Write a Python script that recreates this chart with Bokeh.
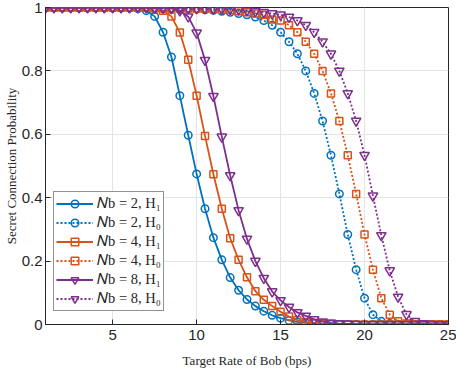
from bokeh.plotting import figure
from bokeh.models import Legend, LegendItem, FixedTicker, Range1d
from bokeh.embed import file_html
from bokeh.resources import INLINE

# Target rate of Bob (bps)
rate = [1, 1.5, 2, 2.5, 3, 3.5, 4, 4.5, 5, 5.5, 6, 6.5, 7, 7.5, 8, 8.5, 9, 9.5,
        10, 10.5, 11, 11.5, 12, 12.5, 13, 13.5, 14, 14.5, 15, 15.5, 16, 16.5,
        17, 17.5, 18, 18.5, 19, 19.5, 20, 20.5, 21, 21.5, 22, 22.5, 23, 23.5,
        24, 24.5, 25]

nb2_h1 = [1.0, 1.0, 1.0, 1.0, 1.0, 1.0, 1.0, 1.0, 1.0, 0.999, 0.999, 0.997,
          0.99, 0.972, 0.922, 0.844, 0.722, 0.597, 0.475, 0.365, 0.274, 0.204,
          0.148, 0.108, 0.079, 0.058, 0.042, 0.029, 0.020, 0.013, 0.008, 0.005,
          0.003, 0.002, 0.001, 0.0, 0.0, 0.0, 0.0, 0.0, 0.0, 0.0, 0.0, 0.0,
          0.0, 0.0, 0.0, 0.0, 0.0]
nb2_h0 = [1.0, 1.0, 1.0, 1.0, 1.0, 1.0, 1.0, 1.0, 1.0, 0.999, 0.999, 0.999,
          0.998, 0.998, 0.997, 0.997, 0.996, 0.996, 0.995, 0.993, 0.991, 0.988,
          0.985, 0.981, 0.977, 0.970, 0.959, 0.944, 0.922, 0.892, 0.854, 0.800,
          0.729, 0.642, 0.534, 0.412, 0.284, 0.173, 0.083, 0.031, 0.010, 0.003,
          0.001, 0.0, 0.0, 0.0, 0.0, 0.0, 0.0]
nb4_h1 = [1.0, 1.0, 1.0, 1.0, 1.0, 1.0, 1.0, 1.0, 1.0, 1.0, 1.0, 0.999,
          0.999, 0.997, 0.99, 0.972, 0.921, 0.835, 0.722, 0.595, 0.474, 0.365,
          0.272, 0.204, 0.149, 0.105, 0.078, 0.058, 0.040, 0.025, 0.014, 0.008,
          0.005, 0.003, 0.002, 0.001, 0.0, 0.0, 0.0, 0.0, 0.0, 0.0, 0.0, 0.0,
          0.0, 0.0, 0.0, 0.0, 0.0]
nb4_h0 = [1.0, 1.0, 1.0, 1.0, 1.0, 1.0, 1.0, 1.0, 1.0, 1.0, 1.0, 0.999,
          0.999, 0.999, 0.998, 0.998, 0.997, 0.997, 0.996, 0.996, 0.995, 0.993,
          0.991, 0.988, 0.985, 0.981, 0.977, 0.962, 0.959, 0.944, 0.922, 0.892,
          0.854, 0.800, 0.729, 0.642, 0.534, 0.412, 0.284, 0.173, 0.083, 0.031,
          0.010, 0.003, 0.001, 0.0, 0.0, 0.0, 0.0]
nb8_h1 = [1.0, 1.0, 1.0, 1.0, 1.0, 1.0, 1.0, 1.0, 1.0, 1.0, 1.0, 1.0, 1.0,
          0.999, 0.999, 0.997, 0.99, 0.971, 0.920, 0.834, 0.720, 0.592, 0.470,
          0.360, 0.270, 0.200, 0.146, 0.104, 0.076, 0.055, 0.038, 0.027, 0.016,
          0.009, 0.005, 0.003, 0.002, 0.001, 0.0, 0.0, 0.0, 0.0, 0.0, 0.0, 0.0,
          0.0, 0.0, 0.0, 0.0]
nb8_h0 = [1.0, 1.0, 1.0, 1.0, 1.0, 1.0, 1.0, 1.0, 1.0, 1.0, 1.0, 1.0, 1.0,
          0.999, 0.999, 0.999, 0.998, 0.998, 0.997, 0.997, 0.996, 0.996, 0.995,
          0.993, 0.991, 0.988, 0.985, 0.981, 0.977, 0.970, 0.959, 0.944, 0.922,
          0.892, 0.854, 0.800, 0.729, 0.642, 0.534, 0.406, 0.281, 0.170, 0.087,
          0.032, 0.010, 0.003, 0.001, 0.0, 0.0]

series_labels = ["𝑁b = 2, H₁", "𝑁b = 2, H₀", "𝑁b = 4, H₁",
                 "𝑁b = 4, H₀", "𝑁b = 8, H₁", "𝑁b = 8, H₀"]
x_ticks = [5, 10, 15, 20, 25]
y_ticks = [0, 0.2, 0.4, 0.6, 0.8, 1]
y_tick_labels = ["0", "0.2", "0.4", "0.6", "0.8", "1"]

BLUE = "#0072BD"
ORANGE = "#D95319"
PURPLE = "#7E2F8E"
AX = "#262626"

p = figure(width=456, height=370, output_backend="svg", toolbar_location=None,
           x_range=Range1d(1, 25), y_range=Range1d(0, 1),
           min_border_left=0, min_border_right=8, min_border_top=7,
           min_border_bottom=44, background_fill_color="white",
           border_fill_color="white")

p.outline_line_color = AX
p.outline_line_width = 1

for ax in (p.xaxis[0], p.yaxis[0]):
    ax.axis_line_color = AX
    ax.major_tick_line_color = AX
    ax.major_tick_in = 5
    ax.major_tick_out = 0
    ax.minor_tick_line_color = None
    ax.major_label_text_font = "Liberation Sans"
    ax.major_label_text_font_size = "15px"
    ax.major_label_text_color = AX
    ax.axis_label_text_font = "Liberation Serif"
    ax.axis_label_text_font_size = "13px"
    ax.axis_label_text_font_style = "normal"
    ax.axis_label_text_color = AX

p.xaxis.major_label_standoff = 5
p.xaxis.axis_label_standoff = 10
p.yaxis.major_label_standoff = 3
p.yaxis.axis_label_standoff = 0

p.xaxis.ticker = FixedTicker(ticks=x_ticks)
p.yaxis.ticker = FixedTicker(ticks=y_ticks)
p.yaxis.major_label_overrides = {t: l for t, l in zip(y_ticks, y_tick_labels)}
p.xaxis.axis_label = "Target Rate of Bob (bps)"
p.yaxis.axis_label = "Secret Connection Probability"

p.grid.grid_line_color = "#e3e3e3"
p.grid.grid_line_width = 1

specs = [
    (nb2_h1, BLUE, "solid", "circle", 7.5),
    (nb2_h0, BLUE, "2 2", "circle", 7.5),
    (nb4_h1, ORANGE, "solid", "square", 7),
    (nb4_h0, ORANGE, "2 2", "square", 7),
    (nb8_h1, PURPLE, "solid", "inverted_triangle", 9.5),
    (nb8_h0, PURPLE, "2 2", "inverted_triangle", 9.5),
]

items = []
for (vals, color, dash, marker, size), lab in zip(specs, series_labels):
    ln = p.line(rate, vals, line_color=color, line_width=1.8, line_dash=dash)
    sc = p.scatter(rate, vals, marker=marker, size=size, line_color=color,
                   line_width=1.5, fill_color=None)
    items.append(LegendItem(label=lab, renderers=[ln, sc]))

legend = Legend(items=items, location=(8, 13), label_text_font="Liberation Serif",
                label_text_font_size="14.5px", label_text_color=AX,
                glyph_width=37, glyph_height=19, label_height=19,
                label_standoff=4, spacing=0, padding=2, margin=0,
                border_line_color=AX, border_line_width=1,
                background_fill_color="white", background_fill_alpha=1)
p.add_layout(legend, "center")

open("out.html", "w").write(file_html(p, INLINE))
